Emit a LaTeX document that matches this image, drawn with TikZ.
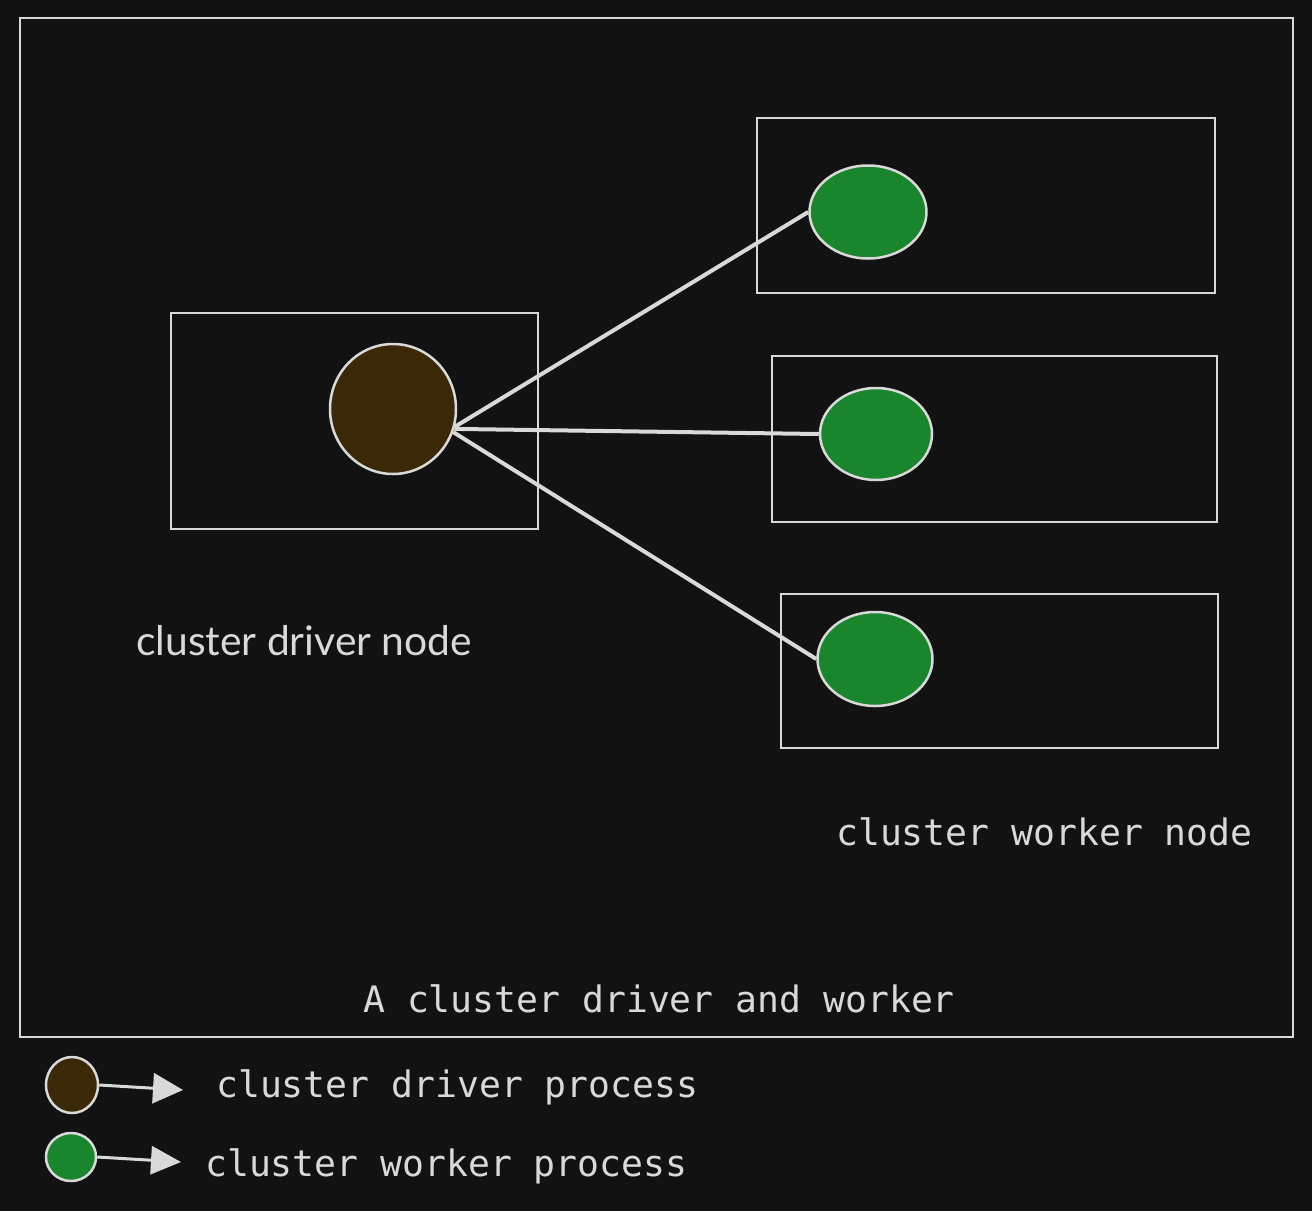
\documentclass[tikz,border=0pt]{standalone}
\usepackage{fontspec}
\setmainfont{Lato}
\newfontfamily\monof{DejaVu Sans Mono}
\usetikzlibrary{shapes.geometric,arrows.meta}
\definecolor{bgc}{HTML}{121212}
\definecolor{inkc}{HTML}{D9D9D9}
\definecolor{brownc}{HTML}{3A2806}
\definecolor{greenc}{HTML}{19852D}
\tikzset{
  boxline/.style={draw=inkc, line width=2pt},
  proc/.style={ellipse, draw=inkc, line width=2.5pt, inner sep=0pt},
  drvproc/.style={proc, fill=brownc},
  wrkproc/.style={proc, fill=greenc},
  link/.style={draw=inkc, line width=4pt},
  monolabel/.style={text=inkc, font=\monof\fontsize{36.4}{40}\selectfont, inner sep=0pt, anchor=base west},
  sanslabel/.style={text=inkc, font=\fontsize{40.8}{44}\selectfont, inner sep=0pt, anchor=base west},
}
\begin{document}
\begin{tikzpicture}[x=1pt,y=-1pt]
\fill[bgc] (0,0) rectangle (1312,1211);
\useasboundingbox (0,0) rectangle (1312,1211);
% outer frame
\draw[boxline] (20,18) rectangle (1293,1037);
% driver box
\draw[boxline] (171,313) rectangle (538,529);
% worker boxes
\draw[boxline] (757,118) rectangle (1215,293);
\draw[boxline] (772,356) rectangle (1217,522);
\draw[boxline] (781,594) rectangle (1218,748);
% processes
\node[drvproc, minimum width=126pt, minimum height=130pt] (drv) at (393,409) {};
\node[wrkproc, minimum width=117pt, minimum height=93pt] (w1) at (868,212) {};
\node[wrkproc, minimum width=112pt, minimum height=92pt] (w2) at (876,434) {};
\node[wrkproc, minimum width=115pt, minimum height=94pt] (w3) at (875,659) {};
% connectors
\draw[link] (drv.-16) -- (w1.west);
\draw[link] (drv.-18) -- (w2.west);
\draw[link] (drv.-21) -- (w3.west);
% labels
\node[sanslabel] (lbldrv) at (136,655) {cluster driver node};
\node[monolabel] (lblwrk) at (836,845) {cluster worker node};
\node[monolabel] (lbltitle) at (363,1012) {A cluster driver and worker};
% legend
\node[drvproc, minimum width=52pt, minimum height=56pt] (lg1) at (72,1085) {};
\coordinate (lg1end) at (183,1090);
\draw[draw=inkc, line width=3pt, -{Triangle[length=30pt,width=30pt]}, inkc] (lg1.east) -- (lg1end);
\node[monolabel] (lgt1) at (216,1097) {cluster driver process};
\node[wrkproc, minimum width=50pt, minimum height=48pt] (lg2) at (71,1157) {};
\coordinate (lg2end) at (181,1162);
\draw[draw=inkc, line width=3pt, -{Triangle[length=30pt,width=28pt]}, inkc] (lg2.east) -- (lg2end);
\node[monolabel] (lgt2) at (205,1176) {cluster worker process};
\end{tikzpicture}
\end{document}
